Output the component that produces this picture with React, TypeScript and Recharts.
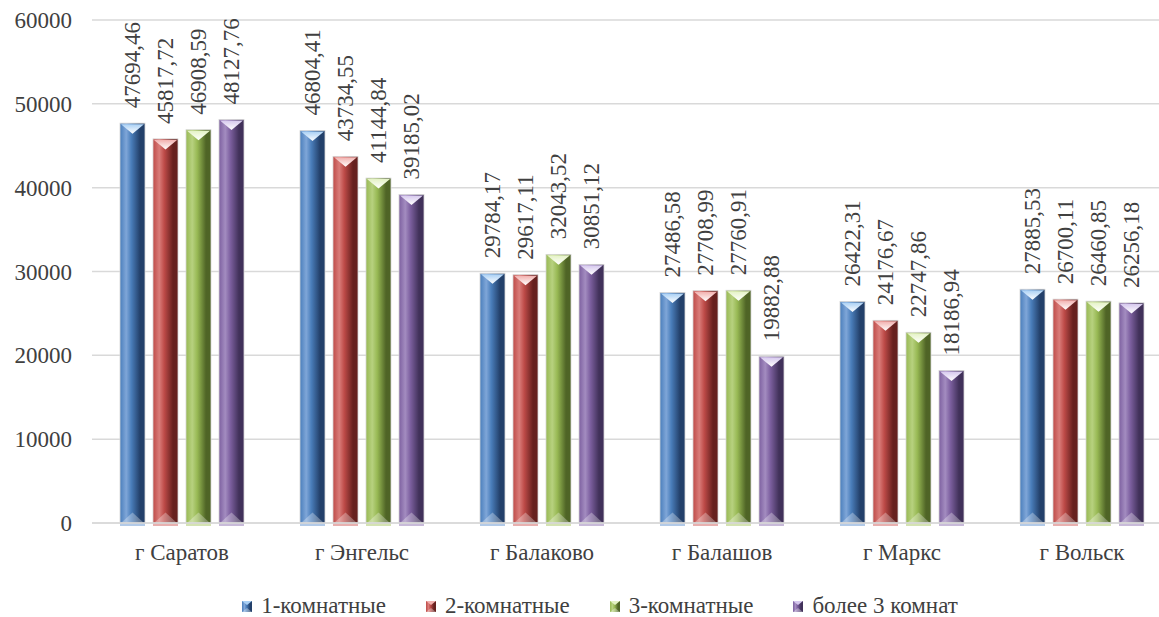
import { Bar, BarChart, CartesianGrid, LabelList, Legend, XAxis, YAxis } from "recharts"

const cities = ['г Саратов', 'г Энгельс', 'г Балаково', 'г Балашов', 'г Маркс', 'г Вольск']
const oneRoom = [47694.46, 46804.41, 29784.17, 27486.58, 26422.31, 27885.53]
const twoRoom = [45817.72, 43734.55, 29617.11, 27708.99, 24176.67, 26700.11]
const threeRoom = [46908.59, 41144.84, 32043.52, 27760.91, 22747.86, 26460.85]
const moreRooms = [48127.76, 39185.02, 30851.12, 19882.88, 18186.94, 26256.18]
const yTicks = [0, 10000, 20000, 30000, 40000, 50000, 60000]

const data = cities.map((city, i) => ({
  city,
  one: oneRoom[i],
  two: twoRoom[i],
  three: threeRoom[i],
  more: moreRooms[i],
}))

const FONT = '"Liberation Serif", "Times New Roman", Times, serif'
const TEXT = '#404040'

const series = [
  { key: 'one', name: '1-комнатные', base: '#4A7EBB', light: '#7FA6D8', dark: '#23406A', cap: '#A9D0F5' },
  { key: 'two', name: '2-комнатные', base: '#BE4B48', light: '#D97C79', dark: '#66211F', cap: '#F2B0AE' },
  { key: 'three', name: '3-комнатные', base: '#98B954', light: '#B7D17F', dark: '#4F6426', cap: '#E4F2C4' },
  { key: 'more', name: 'более 3 комнат', base: '#7D60A0', light: '#A38CC0', dark: '#41315A', cap: '#D6C8EE' },
]

const formatValue = (v: number) => v.toFixed(2).replace('.', ',')

// bevelled column: shaded body, light wedge at the top, faint wedge at the foot
const makeShape = (s: typeof series[number]) => (props: any) => {
  const { x, y, width: w, height: h } = props
  if (!h || h <= 0) return <g />
  const wedge = w * 0.42
  return (
    <g>
      <rect x={x} y={y + h} width={w} height={3} fill={s.light} opacity={0.6} />
      <rect x={x} y={y} width={w} height={h} fill={`url(#body-${s.key})`} stroke="#d6d6d6" strokeWidth={0.8} />
      <polygon
        points={`${x + 1},${y + 1} ${x + w - 1},${y + 1} ${x + w / 2},${y + wedge}`}
        fill={`url(#cap-${s.key})`}
      />
      <polygon
        points={`${x + 1},${y + h} ${x + w / 2},${y + h - wedge} ${x + w - 1},${y + h}`}
        fill="#ffffff"
        opacity={0.3}
      />
    </g>
  )
}

const renderValue = (props: any) => {
  const { x, y, width, value } = props
  const cx = Number(x) + Number(width) / 2
  const ty = Number(y) - 15
  return (
    <text
      x={cx}
      y={ty}
      transform={`rotate(-90 ${cx} ${ty})`}
      textAnchor="start"
      dominantBaseline="central"
      style={{ fontFamily: FONT }}
      fontSize={23}
      fill={TEXT}
    >
      {formatValue(Number(value))}
    </text>
  )
}

const LegendIcon = ({ s }: { s: typeof series[number] }) => (
  <svg width={10} height={11} style={{ marginRight: 9 }}>
    <rect x={0} y={0} width={10} height={11} fill={`url(#body-${s.key})`} />
    <polygon points="0,0 10,0 5,4" fill={s.cap} />
    <polygon points="0,11 5,7 10,11" fill="#ffffff" opacity={0.35} />
  </svg>
)

const renderLegend = () => (
  <div style={{ display: 'flex', justifyContent: 'center', alignItems: 'center', fontFamily: FONT, fontSize: 23, color: TEXT }}>
    {series.map((s) => (
      <div key={s.key} style={{ display: 'flex', alignItems: 'center', margin: '0 20px' }}>
        <LegendIcon s={s} />
        <span>{s.name}</span>
      </div>
    ))}
  </div>
)

const tickStyle = { fontSize: 23, fill: TEXT, style: { fontFamily: FONT } }

export default function App() {
  return (
    <div style={{ position: 'absolute', left: 0, top: 0, width: 1159, height: 617, overflow: 'hidden', background: '#fff', fontFamily: FONT }}>
      <BarChart
        width={1180}
        height={617}
        data={data}
        margin={{ top: 20, right: 8, left: 0, bottom: 0 }}
        barSize={25}
        barGap={8}
        style={{ fontFamily: FONT }}
      >
        <defs>
          {series.map((s) => (
            <linearGradient key={`b-${s.key}`} id={`body-${s.key}`} x1="0" y1="0" x2="1" y2="0">
              <stop offset="0%" stopColor={s.base} />
              <stop offset="25%" stopColor={s.light} />
              <stop offset="45%" stopColor={s.base} />
              <stop offset="80%" stopColor={s.dark} />
              <stop offset="100%" stopColor={s.dark} />
            </linearGradient>
          ))}
          {series.map((s) => (
            <linearGradient key={`c-${s.key}`} id={`cap-${s.key}`} x1="0" y1="0" x2="0" y2="1">
              <stop offset="0%" stopColor={s.cap} />
              <stop offset="100%" stopColor="#ffffff" />
            </linearGradient>
          ))}
        </defs>
        <CartesianGrid vertical={false} stroke="#d9d9d9" strokeWidth={1.5} />
        <XAxis
          dataKey="city"
          height={94}
          tickLine={false}
          axisLine={{ stroke: '#d9d9d9', strokeWidth: 1.5 }}
          tickSize={0}
          tickMargin={21}
          tick={tickStyle}
        />
        <YAxis
          width={92}
          domain={[0, 60000]}
          ticks={yTicks}
          tickLine={false}
          axisLine={false}
          tickSize={0}
          tickMargin={20}
          tick={tickStyle}
        />
        <Legend
          verticalAlign="middle"
          align="center"
          content={renderLegend}
          wrapperStyle={{ left: 0, top: 593, width: 1200, bottom: 'auto' }}
        />
        {series.map((s) => (
          <Bar key={s.key} dataKey={s.key} name={s.name} fill={s.base} shape={makeShape(s)} isAnimationActive={false}>
            <LabelList dataKey={s.key} content={renderValue} />
          </Bar>
        ))}
      </BarChart>
    </div>
  )
}
